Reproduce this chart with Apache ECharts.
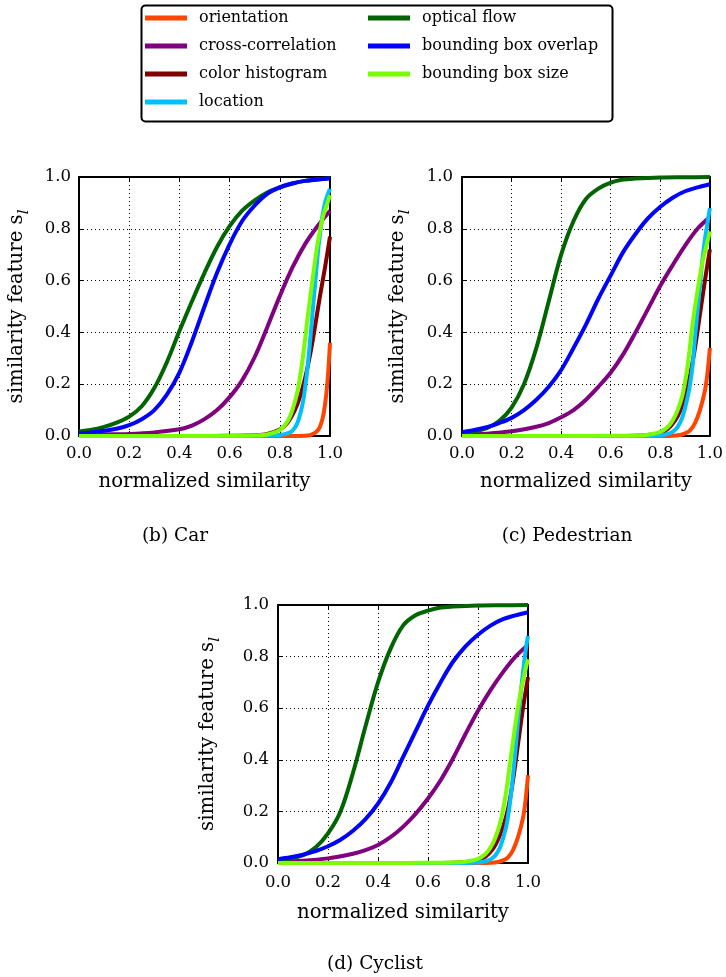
<!DOCTYPE html>
<html><head><meta charset="utf-8">
<script src="https://cdn.jsdelivr.net/npm/echarts@6/dist/echarts.min.js"></script>
<style>html,body{margin:0;padding:0;background:#fff}#c{width:726px;height:977px}</style>
</head><body><div id="c"></div>
<script>
// ---------- data ----------
const seriesNames = ['orientation','cross-correlation','color histogram','location','optical flow','bounding box overlap','bounding box size'];
const seriesColors = ['#ff4500','#800080','#800000','#00bfff','#006400','#0000ff','#7cfc00'];
const panelTitles = ['(b) Car','(c) Pedestrian','(d) Cyclist'];
const xAxisTitle = 'normalized similarity';
const yAxisTitle = 'similarity feature s{sub|l}';

// (b) Car
const carOrientation = [[0,0],[0.1,0],[0.2,0],[0.3,0],[0.4,0],[0.5,0],[0.6,0],[0.7,0],[0.8,0],[0.85,0],[0.9,0.001],[0.92,0.003],[0.94,0.012],[0.95,0.02],[0.96,0.036],[0.97,0.066],[0.98,0.12],[0.99,0.21],[1.0,0.36]];
const carCrossCorr = [[0,0.005],[0.1,0.006],[0.2,0.008],[0.3,0.014],[0.4,0.026],[0.45,0.04],[0.5,0.065],[0.55,0.1],[0.6,0.15],[0.65,0.215],[0.7,0.305],[0.75,0.42],[0.8,0.54],[0.85,0.65],[0.9,0.74],[0.95,0.81],[1.0,0.87]];
const carColorHist = [[0,0],[0.1,0],[0.2,0],[0.3,0],[0.4,0],[0.5,0],[0.6,0.001],[0.7,0.003],[0.75,0.008],[0.8,0.025],[0.83,0.05],[0.86,0.1],[0.88,0.15],[0.9,0.22],[0.92,0.31],[0.94,0.42],[0.96,0.54],[0.98,0.65],[1.0,0.77]];
const carLocation = [[0,0],[0.1,0],[0.2,0],[0.3,0],[0.4,0],[0.5,0],[0.6,0],[0.7,0.001],[0.8,0.004],[0.83,0.01],[0.85,0.02],[0.87,0.05],[0.89,0.12],[0.9,0.18],[0.91,0.26],[0.92,0.36],[0.93,0.47],[0.94,0.58],[0.95,0.69],[0.96,0.78],[0.97,0.85],[0.98,0.9],[0.99,0.93],[1.0,0.955]];
const carOpticalFlow = [[0,0.017],[0.05,0.024],[0.1,0.035],[0.15,0.052],[0.2,0.075],[0.25,0.115],[0.3,0.185],[0.35,0.285],[0.4,0.405],[0.45,0.52],[0.5,0.63],[0.55,0.73],[0.6,0.81],[0.65,0.87],[0.7,0.91],[0.75,0.94],[0.8,0.96],[0.85,0.975],[0.9,0.985],[0.95,0.99],[1.0,0.995]];
const carBboxOverlap = [[0,0.01],[0.05,0.014],[0.1,0.02],[0.15,0.028],[0.2,0.042],[0.25,0.065],[0.3,0.1],[0.35,0.16],[0.4,0.245],[0.45,0.365],[0.5,0.5],[0.55,0.63],[0.6,0.74],[0.65,0.83],[0.7,0.89],[0.75,0.935],[0.8,0.96],[0.85,0.975],[0.9,0.985],[0.95,0.99],[1.0,0.995]];
const carBboxSize = [[0,0],[0.1,0],[0.2,0],[0.3,0],[0.4,0],[0.5,0],[0.6,0.001],[0.7,0.002],[0.75,0.006],[0.8,0.023],[0.83,0.055],[0.85,0.1],[0.87,0.17],[0.89,0.29],[0.91,0.45],[0.93,0.6],[0.95,0.74],[0.97,0.84],[0.99,0.9],[1.0,0.93]];

// (c) Pedestrian
const pedOrientation = [[0,0],[0.1,0],[0.2,0],[0.3,0],[0.4,0],[0.5,0],[0.6,0],[0.7,0],[0.8,0],[0.85,0.001],[0.88,0.004],[0.9,0.01],[0.92,0.022],[0.94,0.05],[0.96,0.1],[0.98,0.175],[0.99,0.24],[1.0,0.34]];
const pedCrossCorr = [[0,0.005],[0.1,0.009],[0.2,0.018],[0.3,0.036],[0.35,0.05],[0.4,0.072],[0.45,0.1],[0.5,0.14],[0.55,0.19],[0.6,0.245],[0.65,0.315],[0.7,0.4],[0.75,0.49],[0.8,0.58],[0.85,0.66],[0.9,0.735],[0.95,0.8],[1.0,0.845]];
const pedColorHist = [[0,0],[0.1,0],[0.2,0],[0.3,0],[0.4,0],[0.5,0],[0.6,0],[0.7,0.001],[0.75,0.004],[0.8,0.012],[0.83,0.027],[0.86,0.06],[0.88,0.097],[0.9,0.153],[0.92,0.234],[0.94,0.34],[0.96,0.47],[0.98,0.6],[1.0,0.72]];
const pedLocation = [[0,0],[0.1,0],[0.2,0],[0.3,0],[0.4,0],[0.5,0],[0.6,0],[0.7,0],[0.8,0.002],[0.83,0.008],[0.85,0.016],[0.87,0.035],[0.89,0.075],[0.91,0.15],[0.92,0.2],[0.93,0.27],[0.94,0.38],[0.95,0.48],[0.96,0.58],[0.97,0.68],[0.98,0.76],[0.99,0.82],[1.0,0.88]];
const pedOpticalFlow = [[0,0.01],[0.05,0.017],[0.1,0.03],[0.15,0.058],[0.2,0.11],[0.25,0.2],[0.3,0.34],[0.35,0.52],[0.4,0.7],[0.45,0.83],[0.5,0.915],[0.55,0.955],[0.6,0.978],[0.65,0.99],[0.7,0.994],[0.8,0.998],[0.9,0.999],[1.0,1.0]];
const pedBboxOverlap = [[0,0.015],[0.05,0.023],[0.1,0.034],[0.15,0.05],[0.2,0.07],[0.25,0.1],[0.3,0.14],[0.35,0.19],[0.4,0.255],[0.45,0.34],[0.5,0.43],[0.55,0.53],[0.6,0.62],[0.65,0.71],[0.7,0.78],[0.75,0.84],[0.8,0.885],[0.85,0.92],[0.9,0.945],[0.95,0.96],[1.0,0.972]];
const pedBboxSize = [[0,0],[0.1,0],[0.2,0],[0.3,0],[0.4,0],[0.5,0],[0.6,0.001],[0.7,0.002],[0.75,0.005],[0.8,0.016],[0.83,0.035],[0.85,0.06],[0.87,0.1],[0.89,0.16],[0.91,0.27],[0.93,0.43],[0.95,0.56],[0.97,0.67],[0.99,0.75],[1.0,0.79]];

// (d) Cyclist
const cycOrientation = [[0,0],[0.1,0],[0.2,0],[0.3,0],[0.4,0],[0.5,0],[0.6,0],[0.7,0],[0.8,0],[0.85,0.001],[0.88,0.004],[0.9,0.01],[0.92,0.022],[0.94,0.05],[0.96,0.1],[0.98,0.175],[0.99,0.24],[1.0,0.34]];
const cycCrossCorr = [[0,0.005],[0.1,0.009],[0.2,0.018],[0.3,0.036],[0.35,0.05],[0.4,0.07],[0.45,0.1],[0.5,0.14],[0.55,0.19],[0.6,0.25],[0.65,0.32],[0.7,0.405],[0.75,0.5],[0.8,0.59],[0.85,0.67],[0.9,0.74],[0.95,0.8],[1.0,0.845]];
const cycColorHist = [[0,0],[0.1,0],[0.2,0],[0.3,0],[0.4,0],[0.5,0],[0.6,0],[0.7,0.001],[0.75,0.004],[0.8,0.011],[0.83,0.025],[0.86,0.055],[0.88,0.09],[0.9,0.14],[0.92,0.21],[0.94,0.32],[0.96,0.46],[0.98,0.6],[1.0,0.72]];
const cycLocation = [[0,0],[0.1,0],[0.2,0],[0.3,0],[0.4,0],[0.5,0],[0.6,0],[0.7,0],[0.8,0.002],[0.83,0.007],[0.85,0.014],[0.87,0.03],[0.89,0.065],[0.91,0.13],[0.92,0.18],[0.93,0.25],[0.94,0.34],[0.95,0.44],[0.96,0.55],[0.97,0.65],[0.98,0.74],[0.99,0.82],[1.0,0.88]];
const cycOpticalFlow = [[0,0.01],[0.05,0.017],[0.1,0.03],[0.15,0.06],[0.2,0.115],[0.25,0.2],[0.3,0.35],[0.35,0.53],[0.4,0.7],[0.45,0.83],[0.5,0.92],[0.55,0.96],[0.6,0.978],[0.65,0.99],[0.7,0.994],[0.8,0.998],[0.9,0.999],[1.0,1.0]];
const cycBboxOverlap = [[0,0.015],[0.05,0.022],[0.1,0.032],[0.15,0.046],[0.2,0.065],[0.25,0.09],[0.3,0.125],[0.35,0.17],[0.4,0.23],[0.45,0.31],[0.5,0.41],[0.55,0.51],[0.6,0.61],[0.65,0.7],[0.7,0.78],[0.75,0.84],[0.8,0.885],[0.85,0.92],[0.9,0.945],[0.95,0.96],[1.0,0.972]];
const cycBboxSize = [[0,0],[0.1,0],[0.2,0],[0.3,0],[0.4,0],[0.5,0],[0.6,0.001],[0.7,0.002],[0.75,0.005],[0.8,0.016],[0.83,0.035],[0.85,0.06],[0.87,0.1],[0.89,0.16],[0.91,0.26],[0.93,0.4],[0.95,0.54],[0.97,0.66],[0.99,0.75],[1.0,0.79]];

const panelData = [
  [carOrientation, carCrossCorr, carColorHist, carLocation, carOpticalFlow, carBboxOverlap, carBboxSize],
  [pedOrientation, pedCrossCorr, pedColorHist, pedLocation, pedOpticalFlow, pedBboxOverlap, pedBboxSize],
  [cycOrientation, cycCrossCorr, cycColorHist, cycLocation, cycOpticalFlow, cycBboxOverlap, cycBboxSize]
];

// ---------- layout / style ----------
const FONT = '"DejaVu Serif", "Liberation Serif", serif';
const grids = [
  {left: 79, top: 177, width: 251, height: 259},
  {left: 462, top: 177, width: 250, height: 259},
  {left: 278, top: 605, width: 250, height: 258}
];
const xLabelMargin = [9, 9, 11];
const xNameGap = [36, 36, 40];
const yLabelMargin = [8, 9, 9];
const yNameGap = [47, 49, 55];
const titlePos = [[175, 536], [567, 536], [375, 964]];

const xAxes = [], yAxes = [], series = [];
const fmt = v => v.toFixed(1);
grids.forEach((g, i) => {
  const common = {
    gridIndex: i, type: 'value', min: 0, max: 1, interval: 0.2,
    axisLine: {show: true, onZero: false, lineStyle: {color: '#000', width: 2}},
    axisTick: {show: true, inside: true, length: 5, lineStyle: {color: '#000', width: 1}}
  };
  xAxes.push(Object.assign({}, common, {
    position: 'bottom',
    axisLabel: {margin: xLabelMargin[i], formatter: fmt, color: '#000', fontFamily: FONT, fontSize: 16.5, showMinLabel: true, showMaxLabel: true},
    splitLine: {show: true, lineStyle: {color: '#000', width: 1, type: [1, 3]}},
    name: xAxisTitle, nameLocation: 'middle', nameGap: xNameGap[i],
    nameTextStyle: {color: '#000', fontFamily: FONT, fontSize: 19.7}
  }));
  xAxes.push(Object.assign({}, common, {
    position: 'top', axisLabel: {show: false}, splitLine: {show: false}
  }));
  yAxes.push(Object.assign({}, common, {
    position: 'left',
    axisLabel: {margin: yLabelMargin[i], formatter: fmt, color: '#000', fontFamily: FONT, fontSize: 16.5, showMinLabel: true, showMaxLabel: true},
    splitLine: {show: true, lineStyle: {color: '#000', width: 1, type: [1, 3]}},
    name: yAxisTitle, nameLocation: 'middle', nameGap: yNameGap[i],
    nameTextStyle: {color: '#000', fontFamily: FONT, fontSize: 19.7,
      rich: {sub: {color: '#000', fontFamily: FONT, fontSize: 15, fontStyle: 'italic', verticalAlign: 'bottom', lineHeight: 30}}}
  }));
  yAxes.push(Object.assign({}, common, {
    position: 'right', axisLabel: {show: false}, splitLine: {show: false}
  }));
  seriesNames.forEach((name, k) => {
    series.push({
      type: 'line', name: name,
      xAxisIndex: 2 * i, yAxisIndex: 2 * i,
      data: panelData[i][k],
      showSymbol: false, symbol: 'none',
      smooth: 0.35,
      lineStyle: {width: 4, color: seriesColors[k]},
      itemStyle: {color: seriesColors[k]},
      emphasis: {disabled: true},
      animation: false
    });
  });
});

const legendCommon = {
  orient: 'vertical', padding: 0, itemWidth: 42, itemHeight: 5, itemGap: 8,
  icon: 'rect', selectedMode: false,
  textStyle: {color: '#000', fontFamily: FONT, fontSize: 16, lineHeight: 20, padding: [0, 0, 0, 7]}
};

const graphics = [
  {type: 'rect', left: 139, top: 3, shape: {width: 471, height: 116, r: 4},
   style: {fill: 'none', stroke: '#000', lineWidth: 2}, z: 10}
];
panelTitles.forEach((t, i) => {
  graphics.push({type: 'text', x: titlePos[i][0], y: titlePos[i][1],
    style: {text: t, fill: '#000', font: '18.5px "DejaVu Serif", "Liberation Serif", serif',
      align: 'center', verticalAlign: 'middle', textAlign: 'center', textVerticalAlign: 'middle'}});
});

const chart = echarts.init(document.getElementById('c'), null, {renderer: 'canvas'});
chart.setOption({
  animation: false,
  backgroundColor: '#fff',
  grid: grids.map(g => Object.assign({containLabel: false, show: false}, g)),
  xAxis: xAxes,
  yAxis: yAxes,
  legend: [
    Object.assign({}, legendCommon, {left: 145, top: 8, data: seriesNames.slice(0, 4)}),
    Object.assign({}, legendCommon, {left: 368, top: 8, data: seriesNames.slice(4)})
  ],
  graphic: graphics,
  series: series
});
</script>
</body></html>
